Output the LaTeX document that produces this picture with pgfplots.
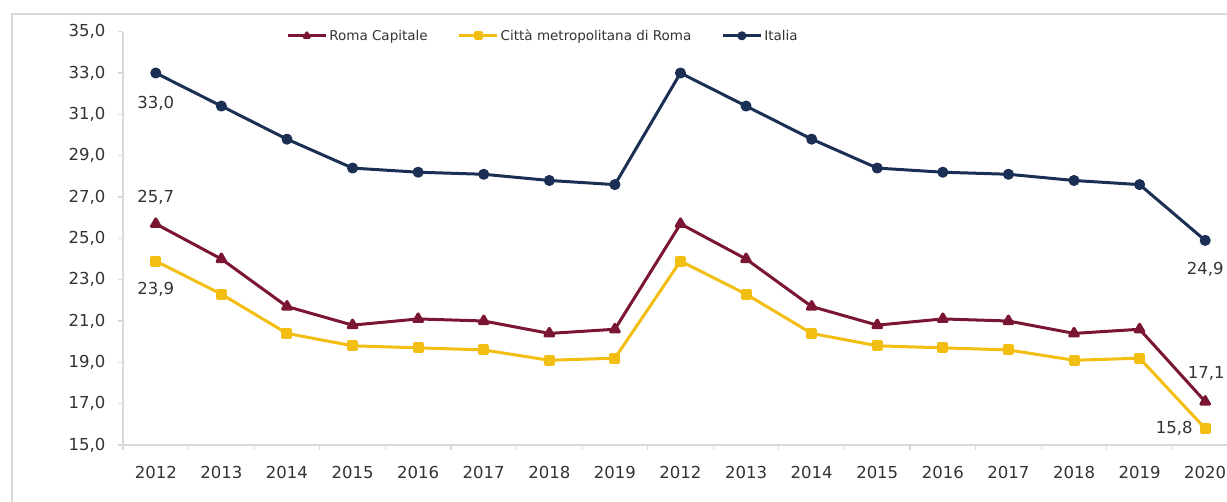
\documentclass[border=0pt]{standalone}
\usepackage{pgfplots}
\pgfplotsset{compat=1.18}
\usepackage{pgfplotstable}
\usepackage{fontspec}
\setmainfont{DejaVu Sans}

\definecolor{roma}{HTML}{7A1631}
\definecolor{citta}{HTML}{F2BE12}
\definecolor{italia}{HTML}{1B2F55}
\definecolor{axgray}{HTML}{D9D9D9}
\definecolor{txt}{HTML}{333333}

% x: position of the year on the axis (two series of years side by side)
\pgfplotstableread{
x italia roma citta
0  33.0 25.7 23.9
1  31.4 24.0 22.3
2  29.8 21.7 20.4
3  28.4 20.8 19.8
4  28.2 21.1 19.7
5  28.1 21.0 19.6
6  27.8 20.4 19.1
7  27.6 20.6 19.2
8  33.0 25.7 23.9
9  31.4 24.0 22.3
10 29.8 21.7 20.4
11 28.4 20.8 19.8
12 28.2 21.1 19.7
13 28.1 21.0 19.6
14 27.8 20.4 19.1
15 27.6 20.6 19.2
16 24.9 17.1 15.8
}\data

\begin{document}
\begin{tikzpicture}
\useasboundingbox (0,0) rectangle (1227pt,502pt);
\draw[axgray, line width=2pt] (1300pt,488pt) -- (12pt,488pt) -- (12pt,-10pt);
\begin{axis}[
    at={(123pt,57pt)}, anchor=south west,
    scale only axis, width=1115pt, height=413.3pt,
    xmin=-0.5, xmax=16.5, ymin=15, ymax=35,
    axis x line*=bottom, axis y line*=left,
    axis line style={axgray, line width=1.2pt},
    tick style={axgray, line width=1.2pt},
    tick align=outside, major tick length=5pt,
    ytick={15,17,...,35},
    xtick={-0.5,0.5,...,16.5},
    xticklabels={},
    extra x ticks={0,...,16},
    extra x tick labels={2012,2013,2014,2015,2016,2017,2018,2019,2012,2013,2014,2015,2016,2017,2018,2019,2020},
    extra x tick style={major tick length=0pt},
    /pgf/number format/assume math mode=true,
    yticklabel style={xshift=-9pt, /pgf/number format/fixed, /pgf/number format/fixed zerofill, /pgf/number format/precision=1, /pgf/number format/use comma},
    ticklabel style={font=\fontsize{16.5}{19}\selectfont, text=txt},
    xticklabel style={yshift=-18pt},
    legend style={at={(0.3767,0.99)}, anchor=center, draw=none, fill=none,
        font=\fontsize{13.5}{16}\selectfont, text=txt,
        /tikz/every even column/.append style={column sep=28pt}},
    legend columns=3,
    legend image code/.code={\draw[#1, mark size=3pt, mark repeat=2, mark phase=2] plot coordinates {(0pt,0pt) (19pt,0pt) (38pt,0pt)};},
    every axis plot/.append style={line width=3pt, line join=round},
    clip=false,
]
\addplot[roma, mark=triangle*, mark size=5pt, mark options={solid}] table[x=x, y=roma] {\data};
\addlegendentry{Roma Capitale}
\addplot[citta, mark=square*, mark size=4pt, mark options={solid}] table[x=x, y=citta] {\data};
\addlegendentry{Città metropolitana di Roma}
\addplot[italia, mark=*, mark size=4pt, mark options={solid}] table[x=x, y=italia] {\data};
\addlegendentry{Italia}

\begin{scope}[every node/.style={font=\fontsize{16.5}{19}\selectfont, text=txt}]
\node[yshift=-30pt] at (axis cs:0,33.0) {33,0};
\node[yshift=27pt] at (axis cs:0,25.7) {25,7};
\node[yshift=-28pt] at (axis cs:0,23.9) {23,9};
\node[yshift=-29pt] at (axis cs:16,24.9) {24,9};
\node[xshift=1pt, yshift=28pt] at (axis cs:16,17.1) {17,1};
\node[xshift=-31pt] at (axis cs:16,15.8) {15,8};
\end{scope}
\end{axis}
\end{tikzpicture}
\end{document}
